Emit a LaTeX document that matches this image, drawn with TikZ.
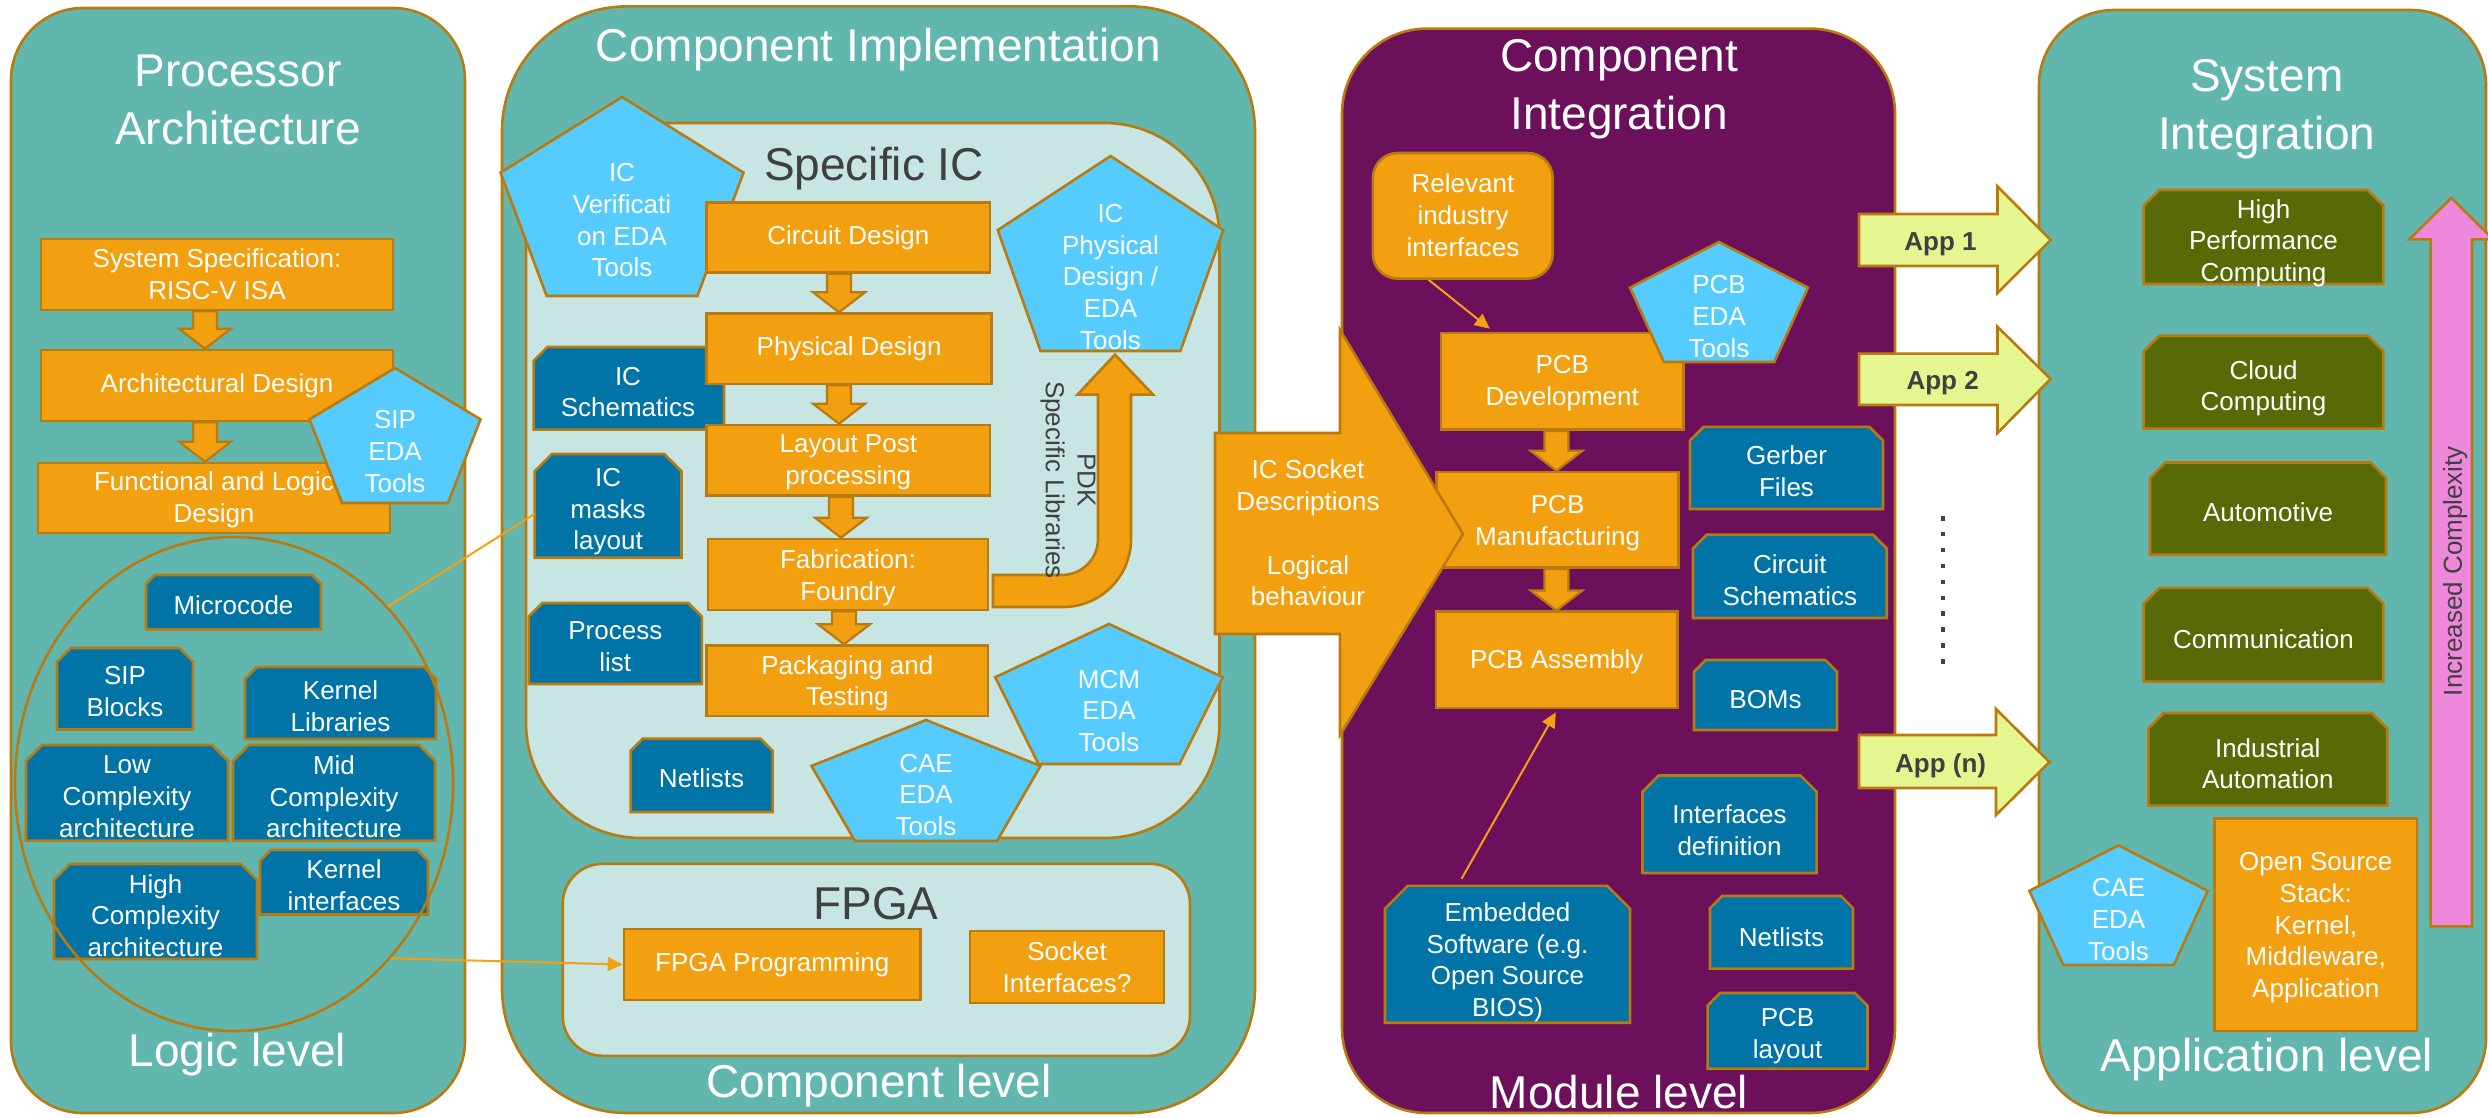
\documentclass[tikz,border=0pt]{standalone}
\usepackage{fontspec}
\setmainfont{Liberation Sans}
\usetikzlibrary{shapes.geometric,calc,arrows.meta}
\definecolor{tealp}{HTML}{61B7AD}
\definecolor{lightp}{HTML}{C6E5E3}
\definecolor{bord}{HTML}{B97A0F}
\definecolor{orng}{HTML}{F29F10}
\definecolor{dblue}{HTML}{0073A7}
\definecolor{lblue}{HTML}{55CBFE}
\definecolor{purp}{HTML}{6C105C}
\definecolor{olive}{HTML}{586A06}
\definecolor{appc}{HTML}{E5F590}
\definecolor{pinkc}{HTML}{EE88DD}
\definecolor{dgray}{HTML}{404040}
\definecolor{lineor}{HTML}{F5A010}
\tikzset{
 panelst/.style={draw=bord, line width=2.6pt},
 boxst/.style={draw=bord, line width=2.6pt, inner sep=0pt, rectangle},
 hid/.style={inner sep=0pt, outer sep=0pt, rectangle},
 txt/.style={text=white, align=center, inner sep=0pt, font=\fontsize{26}{31.7}\selectfont},
 ttl/.style={text=white, align=center, inner sep=0pt, font=\fontsize{46}{58}\selectfont},
 blk/.style={fill=orng, draw=bord, line width=2.2pt, line join=miter},
 pentst/.style={fill=lblue, draw=bord, line width=2.6pt, line join=miter},
 snipst/.style={draw=bord, line width=2.6pt, line join=miter},
 conn/.style={draw=lineor, line width=2pt},
 headtri/.style={-{Triangle[length=15pt,width=14pt]}},
 apparrow/.style={fill=appc, draw=bord, line width=2.6pt, line join=miter},
 applbl/.style={text=dgray, inner sep=0pt, font=\fontsize{26}{31}\selectfont\bfseries},
}
% snipped-corner box: name, x1, y1, x2, y2, fill, text dy, text
\newcommand\snipbox[8]{%
 \pgfmathsetmacro\snipc{min(#4-#2,#5-#3)/6}%
 \pgfmathsetmacro\snipw{#4-#2}\pgfmathsetmacro\sniph{#5-#3}%
 \filldraw[snipst, fill=#6] (#2,#5) -- (#2,#3+\snipc) -- (#2+\snipc,#3) -- (#4-\snipc,#3) -- (#4,#3+\snipc) -- (#4,#5) -- cycle;
 \node[hid, minimum width=\snipw pt, minimum height=\sniph pt] (#1) at ({(#2+#4)/2},{(#3+#5)/2}) {};
 \node[txt] (#1t) at ({(#2+#4)/2},{(#3+#5)/2+#7}) {#8};
}
% rectangle box: name, x1, y1, x2, y2, fill, text dy, text
\newcommand\recbox[8]{%
 \pgfmathsetmacro\recw{#4-#2}\pgfmathsetmacro\rech{#5-#3}%
 \node[boxst, fill=#6, minimum width=\recw pt, minimum height=\rech pt] (#1) at ({(#2+#4)/2},{(#3+#5)/2}) {};
 \node[txt] (#1t) at ({(#2+#4)/2},{(#3+#5)/2+#7}) {#8};
}
% pentagon: name, cx, top, w, h, text
\newcommand\pentbox[6]{%
 \pgfmathsetmacro\pentL{#2-#4/2}\pgfmathsetmacro\pentR{#2+#4/2}%
 \pgfmathsetmacro\pentBL{#2-0.31*#4}\pgfmathsetmacro\pentBR{#2+0.31*#4}%
 \pgfmathsetmacro\pentM{#3+0.38*#5}\pgfmathsetmacro\pentB{#3+#5}%
 \filldraw[pentst] (#2,#3) -- (\pentR,\pentM) -- (\pentBR,\pentB) -- (\pentBL,\pentB) -- (\pentL,\pentM) -- cycle;
 \node[txt] (#1) at (#2,{#3+0.62*#5}) {#6};
}
% block down arrow between two nodes at x = #3
\newcommand\dnarrow[3]{%
 \filldraw[blk] let \p1=(#1.south), \p2=(#2.north) in
 ({#3pt-12pt},\y1) -- ({#3pt+12pt},\y1) -- ({#3pt+12pt},{\y2+20pt}) -- ({#3pt+26pt},{\y2+20pt}) -- (#3pt,\y2) -- ({#3pt-26pt},{\y2+20pt}) -- ({#3pt-12pt},{\y2+20pt}) -- cycle;}
\begin{document}
\begin{tikzpicture}[x=1pt,y=-1pt]
\useasboundingbox (0,0) rectangle (2488,1117);
% ---------- panels
\filldraw[panelst, fill=tealp, rounded corners=72pt] (11,8) rectangle (465,1113);
\filldraw[panelst, fill=tealp, rounded corners=125pt] (502,6.4) rectangle (1255,1113);
\filldraw[panelst, fill=purp, rounded corners=85pt] (1342,28.6) rectangle (1895,1113);
\filldraw[panelst, fill=tealp, rounded corners=75pt] (2039,10) rectangle (2486,1113);

% ---------- Processor Architecture
\node[ttl] (t1) at (238,99.8) {Processor\\Architecture};
\node[ttl, anchor=base] (t1b) at (237.5,1066) {Logic level};
\recbox{sysspec}{41}{239}{393}{310}{orng}{0}{System Specification:\\RISC-V ISA}
\recbox{archdes}{41}{350}{393}{421}{orng}{0}{Architectural Design}
\recbox{funclog}{38}{463}{390}{533}{orng}{2}{Functional and Logic\\Design}
\dnarrow{sysspec}{archdes}{205}
\dnarrow{archdes}{funclog}{205}
\pentbox{sipeda}{395}{368}{171}{135}{SIP\\EDA\\Tools}
\snipbox{micro}{146}{575}{321}{629.4}{dblue}{3}{Microcode}
\snipbox{sipb}{57}{648}{193}{729.5}{dblue}{3}{SIP\\Blocks}
\snipbox{kernlib}{245}{667}{436}{739}{dblue}{3}{Kernel\\Libraries}
\snipbox{lowc}{26}{745}{228}{840.6}{dblue}{4}{Low\\Complexity\\architecture}
\snipbox{midc}{233}{745}{435}{840.6}{dblue}{4}{Mid\\Complexity\\architecture}
\snipbox{highc}{54}{864}{257}{959}{dblue}{4}{High\\Complexity\\architecture}
\snipbox{kernif}{260}{850}{428}{914.5}{dblue}{3}{Kernel\\interfaces}
\node[ellipse, draw=bord, line width=2.6pt, minimum width=438pt, minimum height=494pt, inner sep=0pt] (ell) at (234,784) {};

% ---------- Component Implementation
\node[ttl, anchor=base] (t2) at (878.5,61.4) {Component Implementation};
\node[ttl, anchor=base] (t2b) at (879,1097) {Component level};
\filldraw[panelst, fill=lightp, rounded corners=115pt] (526,123) rectangle (1219.5,838);
\filldraw[panelst, fill=lightp, rounded corners=40pt] (562.7,863.8) rectangle (1190,1055.8);
\node[ttl, anchor=base, text=dgray] (tsic) at (874,180) {Specific IC};
\node[ttl, anchor=base, text=dgray] (tfpga) at (876,919) {FPGA};
\pentbox{icver}{622}{97}{243}{199}{IC\\Verificati\\on EDA\\Tools}
\snipbox{icsch}{533.6}{347}{724}{429.6}{dblue}{0}{}
\node[txt] (icscht) at (628,392) {IC\\Schematics};
\snipbox{masks}{534.6}{454}{681.5}{557.7}{dblue}{6}{IC\\masks\\layout}
\snipbox{proc}{528.8}{603}{701.8}{684}{dblue}{3}{Process\\list}
\snipbox{netl}{630.6}{738.7}{772.6}{812}{dblue}{3}{Netlists}
\recbox{circ}{706.7}{202.5}{990}{272.5}{orng}{0}{Circuit Design}
\recbox{phys}{706.7}{313.6}{991.7}{384}{orng}{0}{Physical Design}
\recbox{layout}{706.7}{425}{990}{495.7}{orng}{2}{Layout Post\\processing}
\recbox{fab}{708}{539}{988}{610}{orng}{3}{Fabrication:\\Foundry}
\recbox{pack}{706.7}{645.6}{988}{716}{orng}{2.5}{Packaging and\\Testing}
\dnarrow{circ}{phys}{839}
\dnarrow{phys}{layout}{839}
\dnarrow{layout}{fab}{841}
\dnarrow{fab}{pack}{844}
\filldraw[blk, line width=2.6pt] (993,575) -- (1062,575) .. controls (1081.9,575) and (1098,558.9) .. (1098,539) -- (1098,394.6) -- (1077.5,394.6) -- (1115,354.6) -- (1153,394.6) -- (1131,394.6) -- (1131,539) .. controls (1131,576.6) and (1100.6,607) .. (1063,607) -- (993,607) -- cycle;
\node[txt, text=dgray, rotate=-90] (pdk) at (1068,480) {PDK\\Specific Libraries};
\pentbox{icphys}{1110.5}{156}{225.5}{195}{IC\\Physical\\Design /\\EDA\\Tools}
\pentbox{mcm}{1109}{624}{227.5}{140}{MCM\\EDA\\Tools}
\pentbox{cae}{926}{720}{229}{121}{CAE\\EDA\\Tools}
\recbox{fpgaprog}{624}{929}{920.5}{1000}{orng}{0}{FPGA Programming}
\recbox{sockif}{970}{931}{1164}{1003}{orng}{0}{Socket\\Interfaces?}

% ---------- Component Integration
\node[ttl] (t3) at (1619,89) {Component\\Integration};
\node[ttl, anchor=base] (t3b) at (1619,1108) {Module level};
\node[boxst, fill=orng, rounded corners=25pt, minimum width=179.9pt, minimum height=125.6pt] (rel) at (1462.75,215.8) {};
\node[txt] (relt) at (1463,215.2) {Relevant\\industry\\interfaces};
\recbox{pcbdev}{1441}{333}{1683.5}{429.6}{orng}{2}{PCB\\Development}
\pentbox{pcbeda}{1719}{242}{178}{120}{PCB\\EDA\\Tools}
\recbox{pcbman}{1436.6}{472}{1678.6}{567.6}{orng}{3}{PCB\\Manufacturing}
\recbox{pcbasm}{1435.9}{611.7}{1677.7}{708}{orng}{2}{PCB Assembly}
\dnarrow{pcbdev}{pcbman}{1556.5}
\dnarrow{pcbman}{pcbasm}{1556.5}
\snipbox{gerber}{1690}{426.8}{1883}{509}{dblue}{3}{Gerber\\Files}
\snipbox{circsch}{1693}{534.6}{1886.7}{618}{dblue}{4}{Circuit\\Schematics}
\snipbox{boms}{1694}{660}{1837}{730}{dblue}{4.5}{BOMs}
\snipbox{ifdef}{1642.5}{775.5}{1816.6}{873}{dblue}{6}{Interfaces\\definition}
\snipbox{emb}{1385}{885.8}{1630}{1022.7}{dblue}{8}{Embedded\\Software (e.g.\\Open Source\\BIOS)}
\snipbox{netl2}{1710}{896}{1853}{968.6}{dblue}{4.5}{Netlists}
\snipbox{pcblay}{1707.6}{993}{1867.5}{1068.7}{dblue}{5.5}{PCB\\layout}
\draw[conn, headtri] ($(rel.south)+(-34,0)$) -- ($(pcbdev.north)+(-72.5,-3)$);
\draw[conn, headtri] ($(emb.north)+(-46,-7)$) -- ($(pcbasm.south)+(-1,3)$);

% big socket arrow
\filldraw[blk, line width=2.6pt] (1215,433) -- (1340,433) -- (1340,330) -- (1463,534) -- (1340,735) -- (1340,634) -- (1215,634) -- cycle;
\node[txt] (sock) at (1308,533) {IC Socket\\Descriptions\\[31.7pt]Logical\\behaviour};

% ---------- System Integration
\node[ttl] (t4) at (2266.8,109.4) {System\\Integration};
\node[ttl, anchor=base] (t4b) at (2266.8,1071.6) {Application level};
\snipbox{hpc}{2143.7}{190}{2383.3}{284}{olive}{6}{High\\Performance\\Computing}
\snipbox{cloud}{2143.7}{335.7}{2383.3}{428.6}{olive}{6}{Cloud\\Computing}
\snipbox{auto}{2150}{462.5}{2386}{554.7}{olive}{4}{Automotive}
\snipbox{comm}{2143.7}{587.8}{2383.3}{681.6}{olive}{4.5}{Communication}
\snipbox{indus}{2148.3}{713}{2387.2}{805.6}{olive}{4.5}{Industrial\\Automation}
\recbox{oss}{2214.6}{818.5}{2417}{1031}{orng}{3}{Open Source\\Stack:\\Kernel,\\Middleware,\\Application}
\pentbox{cae4}{2118.5}{845.4}{178.3}{119.6}{CAE\\EDA\\Tools}
\filldraw[fill=pinkc, draw=bord, line width=2.6pt, line join=miter] (2430.6,926.3) -- (2430.6,239.3) -- (2409.3,239.3) -- (2451.3,198) -- (2493.3,239.3) -- (2472,239.3) -- (2472,926.3) -- cycle;
\node[txt, text=dgray, rotate=90] (incc) at (2455,571) {Increased Complexity};

% App arrows
\filldraw[apparrow] (1859,214) -- (1997.5,214) -- (1997.5,186.4) -- (2050.6,240) -- (1997.5,293) -- (1997.5,266) -- (1859,266) -- cycle;
\node[applbl, anchor=base] (app1) at (1940.5,250) {App 1};
\filldraw[apparrow] (1859,353.6) -- (1997.5,353.6) -- (1997.5,326.8) -- (2050.6,379) -- (1997.5,433) -- (1997.5,405) -- (1859,405) -- cycle;
\node[applbl, anchor=base] (app2) at (1942.6,389) {App 2};
\filldraw[apparrow] (1859,735) -- (1996,735) -- (1996,709) -- (2049.4,762) -- (1996,815) -- (1996,788) -- (1859,788) -- cycle;
\node[applbl, anchor=base] (appn) at (1940.6,772.5) {App (n)};
\foreach \i in {0,...,9} \fill[dgray] (1940.8,{516+\i*15.9}) rectangle +(4.5,4.5);

% ---------- connectors from logic level
\draw[conn] (ell.49) -- ($(masks.west)+(0,8)$);
\draw[conn, headtri] (ell.-48) -- (fpgaprog.west);
\end{tikzpicture}
\end{document}
